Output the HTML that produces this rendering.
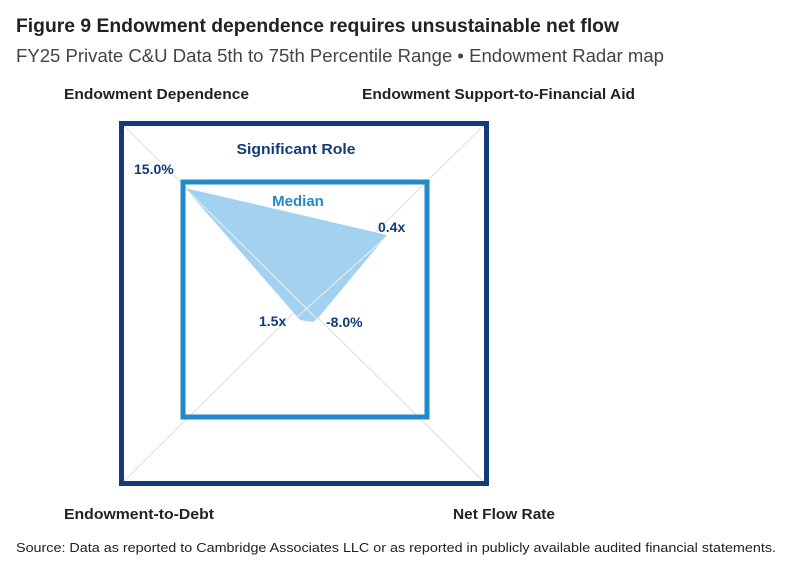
<!DOCTYPE html>
<html><head><style>
body{margin:0;background:#fff;width:799px;height:577px;overflow:hidden;font-family:"Liberation Sans",sans-serif}
</style></head><body>
<svg width="799" height="577" xmlns="http://www.w3.org/2000/svg" font-family="Liberation Sans, sans-serif">
<text x="16" y="32" font-size="19" font-weight="bold" fill="#222" textLength="603" lengthAdjust="spacingAndGlyphs">Figure 9   Endowment dependence requires unsustainable net flow</text>
<text x="16" y="62" font-size="18" fill="#444" textLength="648" lengthAdjust="spacingAndGlyphs">FY25 Private C&amp;U Data 5th to 75th Percentile Range • Endowment Radar map</text>
<text x="64" y="99" font-size="15" font-weight="bold" fill="#222" textLength="185" lengthAdjust="spacingAndGlyphs">Endowment Dependence</text>
<text x="362" y="99" font-size="15" font-weight="bold" fill="#222" textLength="273" lengthAdjust="spacingAndGlyphs">Endowment Support-to-Financial Aid</text>
<text x="64" y="519" font-size="15" font-weight="bold" fill="#222" textLength="150" lengthAdjust="spacingAndGlyphs">Endowment-to-Debt</text>
<text x="453" y="519" font-size="15" font-weight="bold" fill="#222" textLength="102" lengthAdjust="spacingAndGlyphs">Net Flow Rate</text>
<text x="16" y="552" font-size="13" fill="#222" textLength="760" lengthAdjust="spacingAndGlyphs">Source: Data as reported to Cambridge Associates LLC or as reported in publicly available audited financial statements.</text>
<line x1="121" y1="123" x2="486" y2="484" stroke="#ddd" stroke-width="1"/>
<line x1="486" y1="123" x2="121" y2="484" stroke="#ddd" stroke-width="1"/>
<polygon points="185,188 387,235 318,318 313,322 300,320 293,312" fill="#a2d2ef"/>
<line x1="185" y1="188" x2="318" y2="320" stroke="#eee" stroke-width="1"/>
<line x1="385" y1="238" x2="296" y2="318" stroke="#eee" stroke-width="1"/>
<rect x="121.5" y="123.5" width="365" height="360" fill="none" stroke="#123a7c" stroke-width="5"/>
<rect x="183" y="182" width="244" height="235" fill="none" stroke="#238ac9" stroke-width="5"/>
<text x="296" y="154" font-size="15" font-weight="bold" fill="#123a7c" text-anchor="middle" textLength="119" lengthAdjust="spacingAndGlyphs">Significant Role</text>
<text x="298" y="206" font-size="15" font-weight="bold" fill="#238ac9" text-anchor="middle">Median</text>
<text x="134" y="174" font-size="14" font-weight="bold" fill="#123a7c">15.0%</text>
<text x="378" y="232" font-size="14" font-weight="bold" fill="#123a7c">0.4x</text>
<text x="259" y="326" font-size="14" font-weight="bold" fill="#123a7c">1.5x</text>
<text x="326" y="327" font-size="14" font-weight="bold" fill="#123a7c">-8.0%</text>
</svg>
</body></html>
